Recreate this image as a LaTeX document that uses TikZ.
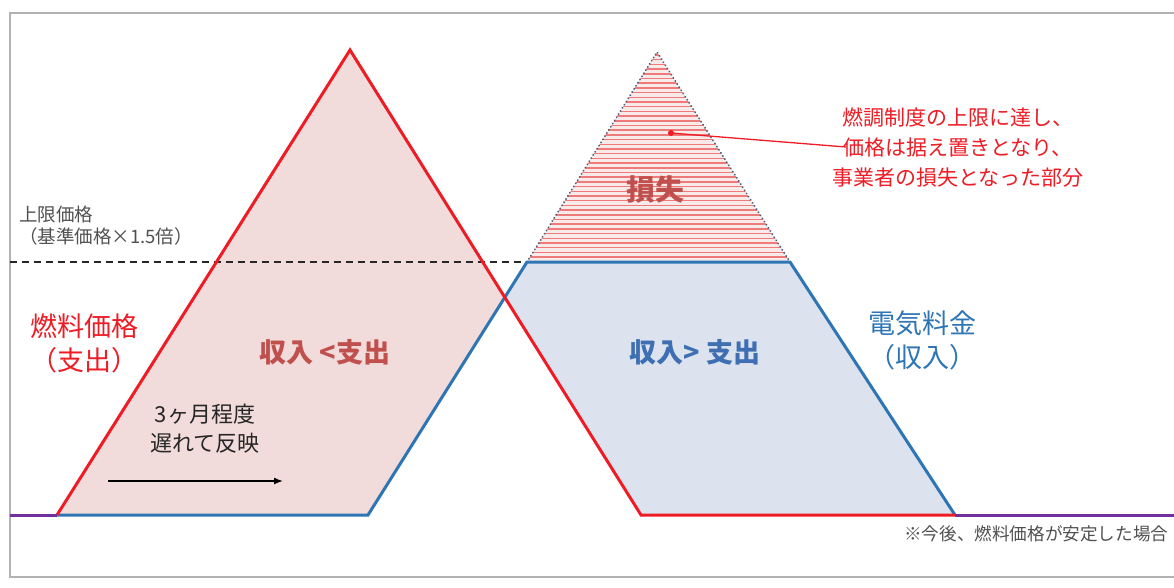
\documentclass[tikz,border=0pt]{standalone}
\usepackage{fontspec}
\usetikzlibrary{arrows.meta}
\setmainfont{Noto Sans CJK JP}
\definecolor{lred}{HTML}{EE1C25}
\definecolor{lblue}{HTML}{2E75B6}
\definecolor{lpurple}{HTML}{7030A0}
\definecolor{fpink}{HTML}{F2DCDB}
\definecolor{fblue}{HTML}{DCE3EF}
\definecolor{tred}{HTML}{C0504D}
\definecolor{tblue}{HTML}{3F6FB3}
\definecolor{stripe}{HTML}{EE7A7A}
\definecolor{dotc}{HTML}{4A5A78}
\definecolor{gtext}{HTML}{505050}
\tikzset{
  curve/.style={line width=3pt, line join=miter},
  lbl/.style={inner sep=0pt, align=center},
}
\begin{document}
\begin{tikzpicture}[x=1pt,y=-1pt]
\useasboundingbox (0,0) rectangle (1174,587);
\clip (0,0) rectangle (1174,587);
\fill[white] (0,0) rectangle (1174,587);
\draw[gray!60, line width=2.2pt] (10,13) rectangle (1190,577);

\coordinate (L0) at (10,515);
\coordinate (A) at (57,515);
\coordinate (P) at (350,50);
\coordinate (B) at (368,515);
\coordinate (X) at (504.6,297.8);
\coordinate (C) at (527,262);
\coordinate (D) at (790,262);
\coordinate (Q) at (657,52);
\coordinate (E) at (641,515);
\coordinate (F) at (955,515);
\coordinate (R) at (1174,515);
\coordinate (H) at (10,262);

% fills
\fill[fpink] (A) -- (P) -- (X) -- (B) -- cycle;
\fill[fblue] (X) -- (C) -- (D) -- (F) -- (E) -- cycle;
\begin{scope}
  \clip (C) -- (Q) -- (D) -- cycle;
  \fill[fpink!60] (C) -- (Q) -- (D) -- cycle;
  \foreach \yy in {55,59.7,...,262} {
    \draw[stripe, line width=1.5pt] (500,\yy) -- (820,\yy);
  }
\end{scope}
\draw[dotc, line width=2pt, line cap=round, dash pattern=on 0.1pt off 3.6pt] (C) -- (Q) -- (D);

% dashed cap line
\draw[black!85, line width=1.3pt, dash pattern=on 7pt off 5pt] (H) -- (C);

% curves
\draw[lblue, curve] (A) -- (B) -- (C) -- (D) -- (F);
\draw[lred, curve] (A) -- (P) -- (E) -- (F);
\draw[lpurple, curve] (L0) -- (A);
\draw[lpurple, curve] (F) -- (R);

% labels
\node[lbl, anchor=west, text=gtext, font=\fontsize{18.5}{22}\selectfont] (cap1) at (19,214) {上限価格};
\node[lbl, anchor=west, text=gtext, font=\fontsize{18.5}{22}\selectfont] (cap2) at (19,236) {（基準価格×1.5倍）};

\node[lbl, text=lred, font=\fontsize{27}{34}\selectfont] (fuel) at (84,343) {燃料価格\\（支出）};
\node[lbl, text=tred, font=\bfseries\fontsize{27}{32}\selectfont] (neg) at (325,352) {収入 <支出};
\node[lbl, text=tblue, font=\bfseries\fontsize{27}{32}\selectfont] (pos) at (695,352) {収入> 支出};
\node[lbl, text=lblue, font=\fontsize{27}{34}\selectfont] (elec) at (922,340) {電気料金\\（収入）};

\node[lbl, text=black!85, font=\fontsize{22}{29}\selectfont] (lag) at (205,429) {3ヶ月程度\\遅れて反映};
\coordinate (ar1) at (108,481);
\coordinate (ar2) at (283,481);
\draw[black, line width=1.4pt, -{Latex[length=9pt,width=7pt]}] (ar1) -- (ar2);

\node[lbl, text=tred, font=\bfseries\fontsize{29}{32}\selectfont] (loss) at (655,190) {損失};

\node[lbl, text=lred, font=\fontsize{21}{30}\selectfont] (note) at (958,148) {燃調制度の上限に達し、\\価格は据え置きとなり、\\事業者の損失となった部分};
\coordinate (dot) at (671,133);
\coordinate (lineend) at (846,147);
\draw[lred, line width=1.3pt] (dot) -- (lineend);
\fill[lred] (dot) circle (3pt);

\node[lbl, anchor=west, text=gtext, font=\fontsize{17.6}{21}\selectfont] (foot) at (904,534) {※今後、燃料価格が安定した場合};
\end{tikzpicture}
\end{document}
